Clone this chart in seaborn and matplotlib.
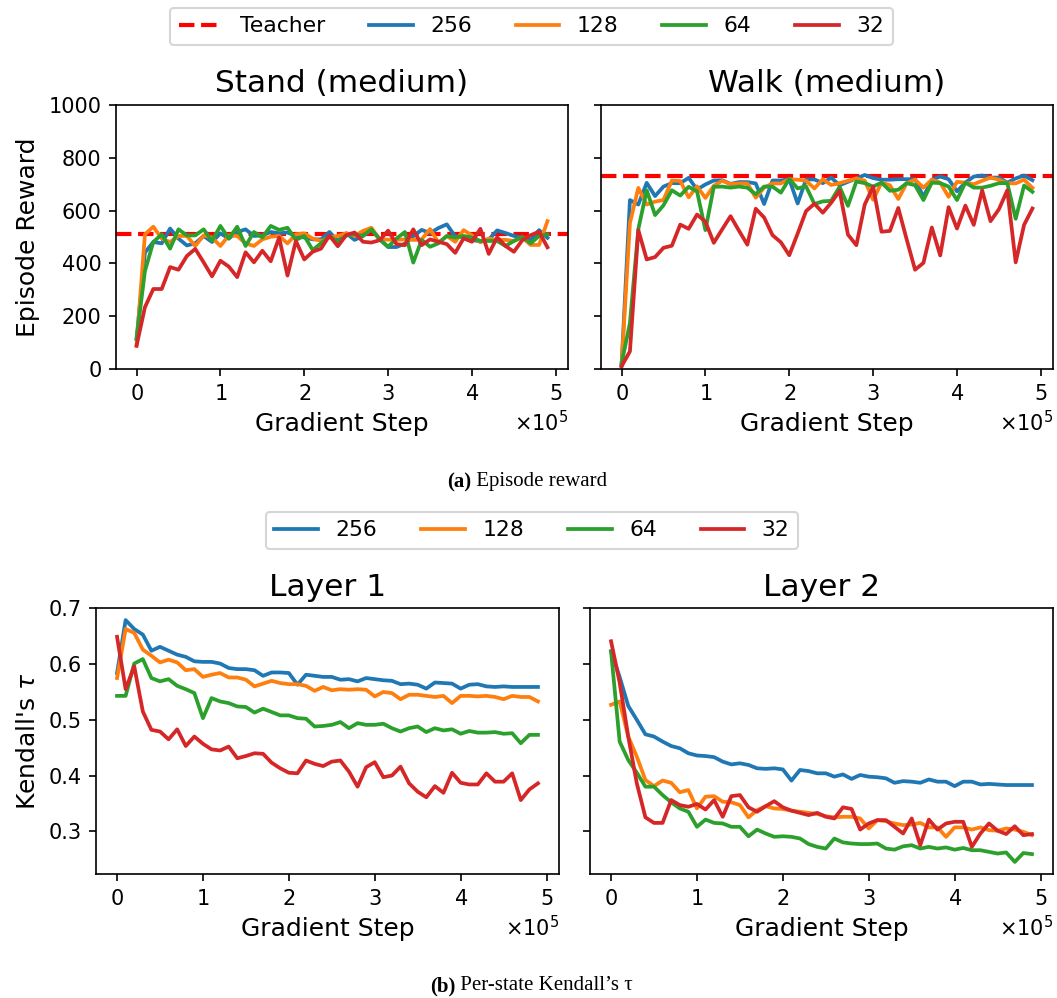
import numpy as np
import pandas as pd
import matplotlib
matplotlib.use("Agg")
import matplotlib.pyplot as plt
import seaborn as sns

# gradient steps (x axis), 50 checkpoints
steps = np.arange(50) * 10000

widths = ["256", "128", "64", "32"]
colors = ["#1f77b4", "#ff7f0e", "#2ca02c", "#d62728"]

# --- Episode reward, Stand (medium) ---
stand_teacher = 513
stand_256 = [114, 441, 481, 476, 532, 494, 468, 476, 504, 481, 514, 494, 519, 529, 504, 506, 519, 514, 517, 504,
             498, 491, 491, 519, 485, 514, 489, 504, 529, 491, 462, 462, 475, 503, 527, 515, 534, 548, 502, 500,
             489, 483, 490, 525, 515, 504, 497, 489, 526, 497]
stand_128 = [89, 510, 539, 494, 481, 504, 504, 466, 506, 498, 466, 506, 504, 476, 466, 491, 501, 504, 476, 510,
             514, 494, 485, 498, 504, 514, 504, 523, 535, 491, 490, 489, 491, 489, 491, 530, 479, 504, 482, 526,
             506, 480, 494, 489, 489, 485, 498, 470, 470, 560]
stand_64 = [114, 371, 481, 510, 456, 529, 506, 506, 529, 485, 542, 494, 539, 466, 519, 498, 542, 527, 535, 489,
            504, 451, 476, 504, 481, 506, 510, 504, 529, 491, 463, 494, 519, 403, 489, 463, 476, 504, 498, 504,
            498, 485, 485, 485, 466, 485, 501, 476, 504, 510]
stand_32 = [88, 234, 303, 303, 386, 376, 428, 455, 404, 351, 410, 388, 348, 442, 404, 448, 408, 498, 354, 485,
            415, 444, 456, 506, 465, 507, 517, 482, 479, 488, 524, 473, 469, 529, 469, 491, 482, 473, 440, 495,
            482, 531, 436, 499, 466, 444, 488, 507, 520, 461]

# --- Episode reward, Walk (medium) ---
walk_teacher = 732
walk_256 = [13, 640, 623, 705, 655, 691, 704, 704, 724, 680, 699, 714, 715, 701, 708, 708, 703, 625, 714, 714,
            719, 627, 718, 718, 704, 725, 696, 709, 722, 735, 723, 717, 717, 719, 719, 719, 652, 717, 729, 719,
            673, 706, 729, 733, 725, 725, 706, 722, 733, 715]
walk_128 = [13, 553, 686, 623, 634, 640, 714, 712, 650, 692, 648, 694, 713, 700, 703, 703, 649, 687, 703, 703,
            719, 717, 713, 684, 719, 697, 704, 713, 722, 713, 641, 706, 696, 644, 704, 717, 687, 717, 706, 652,
            709, 706, 700, 713, 725, 717, 704, 703, 717, 686]
walk_64 = [20, 174, 530, 677, 583, 620, 677, 657, 690, 673, 526, 690, 691, 687, 691, 687, 662, 691, 691, 668,
           720, 684, 692, 625, 635, 637, 690, 618, 710, 704, 691, 706, 675, 679, 704, 696, 640, 706, 704, 691,
           640, 706, 687, 687, 694, 704, 704, 569, 695, 671]
walk_32 = [10, 67, 526, 415, 424, 459, 467, 547, 531, 585, 558, 478, 529, 579, 524, 471, 607, 574, 507, 480,
           431, 513, 598, 626, 592, 630, 675, 509, 469, 623, 691, 520, 523, 610, 491, 376, 402, 536, 430, 613,
           532, 619, 546, 677, 560, 605, 677, 404, 546, 608]

# --- Per-state Kendall's tau, Layer 1 ---
l1_256 = [0.584, 0.679, 0.663, 0.653, 0.624, 0.631, 0.624, 0.617, 0.613, 0.605, 0.604, 0.604, 0.601, 0.593,
          0.591, 0.591, 0.589, 0.579, 0.585, 0.585, 0.584, 0.563, 0.581, 0.579, 0.577, 0.577, 0.572, 0.573,
          0.569, 0.575, 0.573, 0.571, 0.570, 0.564, 0.565, 0.563, 0.556, 0.567, 0.566, 0.565, 0.556, 0.563,
          0.564, 0.560, 0.559, 0.560, 0.559, 0.559, 0.559, 0.559]
l1_128 = [0.575, 0.663, 0.656, 0.626, 0.615, 0.603, 0.608, 0.603, 0.589, 0.591, 0.577, 0.581, 0.584, 0.576,
          0.576, 0.572, 0.560, 0.565, 0.570, 0.566, 0.564, 0.564, 0.561, 0.552, 0.559, 0.553, 0.555, 0.554,
          0.555, 0.554, 0.542, 0.550, 0.548, 0.537, 0.545, 0.545, 0.543, 0.541, 0.543, 0.530, 0.543, 0.543,
          0.542, 0.543, 0.541, 0.537, 0.543, 0.541, 0.541, 0.533]
l1_64 = [0.543, 0.543, 0.601, 0.609, 0.575, 0.569, 0.573, 0.561, 0.555, 0.548, 0.503, 0.539, 0.533, 0.530,
         0.524, 0.523, 0.513, 0.520, 0.514, 0.508, 0.508, 0.503, 0.502, 0.488, 0.489, 0.491, 0.496, 0.485,
         0.494, 0.491, 0.491, 0.493, 0.485, 0.479, 0.485, 0.488, 0.478, 0.485, 0.481, 0.483, 0.475, 0.480,
         0.477, 0.477, 0.478, 0.475, 0.476, 0.458, 0.473, 0.473]
l1_32 = [0.649, 0.555, 0.596, 0.515, 0.482, 0.479, 0.465, 0.483, 0.453, 0.470, 0.457, 0.447, 0.445, 0.452,
         0.431, 0.435, 0.440, 0.439, 0.423, 0.413, 0.405, 0.404, 0.427, 0.421, 0.417, 0.425, 0.427, 0.407,
         0.380, 0.415, 0.424, 0.397, 0.400, 0.416, 0.386, 0.371, 0.361, 0.381, 0.369, 0.405, 0.387, 0.384,
         0.384, 0.404, 0.389, 0.389, 0.404, 0.356, 0.375, 0.386]

# --- Per-state Kendall's tau, Layer 2 ---
l2_256 = [0.623, 0.577, 0.525, 0.500, 0.474, 0.470, 0.461, 0.453, 0.449, 0.440, 0.436, 0.435, 0.433, 0.425,
          0.420, 0.422, 0.419, 0.413, 0.412, 0.413, 0.411, 0.391, 0.410, 0.408, 0.404, 0.404, 0.398, 0.402,
          0.394, 0.401, 0.398, 0.397, 0.395, 0.387, 0.390, 0.389, 0.387, 0.393, 0.389, 0.389, 0.381, 0.389,
          0.389, 0.384, 0.385, 0.384, 0.383, 0.383, 0.383, 0.383]
l2_128 = [0.527, 0.533, 0.470, 0.434, 0.392, 0.381, 0.391, 0.387, 0.370, 0.374, 0.341, 0.362, 0.363, 0.353,
          0.352, 0.347, 0.325, 0.338, 0.345, 0.341, 0.340, 0.337, 0.335, 0.333, 0.331, 0.327, 0.325, 0.326,
          0.326, 0.323, 0.305, 0.320, 0.318, 0.314, 0.311, 0.312, 0.315, 0.307, 0.307, 0.290, 0.307, 0.307,
          0.303, 0.307, 0.302, 0.301, 0.305, 0.303, 0.299, 0.293]
l2_64 = [0.623, 0.461, 0.428, 0.405, 0.380, 0.380, 0.365, 0.352, 0.341, 0.335, 0.308, 0.321, 0.315, 0.314,
         0.308, 0.308, 0.291, 0.303, 0.296, 0.290, 0.291, 0.290, 0.287, 0.277, 0.272, 0.269, 0.287, 0.280,
         0.278, 0.277, 0.277, 0.278, 0.269, 0.267, 0.273, 0.275, 0.269, 0.272, 0.269, 0.271, 0.267, 0.270,
         0.266, 0.266, 0.263, 0.260, 0.262, 0.245, 0.261, 0.259]
l2_32 = [0.641, 0.567, 0.470, 0.386, 0.325, 0.315, 0.315, 0.356, 0.347, 0.344, 0.349, 0.339, 0.356, 0.326,
         0.363, 0.365, 0.343, 0.335, 0.345, 0.354, 0.343, 0.337, 0.333, 0.329, 0.333, 0.326, 0.323, 0.343,
         0.340, 0.303, 0.314, 0.320, 0.320, 0.308, 0.296, 0.323, 0.275, 0.321, 0.303, 0.314, 0.317, 0.317,
         0.272, 0.296, 0.314, 0.301, 0.295, 0.309, 0.293, 0.295]


def to_long(series):
    frames = []
    for w, vals in zip(widths, series):
        frames.append(pd.DataFrame({"step": steps, "value": vals, "width": w}))
    return pd.concat(frames, ignore_index=True)


plt.rcParams.update({
    "font.size": 10,
    "axes.titlesize": 15,
    "axes.labelsize": 12,
    "xtick.labelsize": 10,
    "ytick.labelsize": 10,
    "legend.fontsize": 10.5,
    "lines.linewidth": 1.8,
})

fig = plt.figure(figsize=(1057 / 150, 998 / 150), dpi=150)

W, H = 1057, 998
ax_stand = fig.add_axes([116 / W, 1 - 369 / H, 452 / W, 264 / H])
ax_walk = fig.add_axes([601 / W, 1 - 369 / H, 452 / W, 264 / H], sharey=ax_stand)
ax_l1 = fig.add_axes([96 / W, 1 - 874 / H, 463 / W, 266 / H])
ax_l2 = fig.add_axes([590 / W, 1 - 874 / H, 463 / W, 266 / H], sharey=ax_l1)

panels = [
    (ax_stand, "Stand (medium)", [stand_256, stand_128, stand_64, stand_32], stand_teacher),
    (ax_walk, "Walk (medium)", [walk_256, walk_128, walk_64, walk_32], walk_teacher),
    (ax_l1, "Layer 1", [l1_256, l1_128, l1_64, l1_32], None),
    (ax_l2, "Layer 2", [l2_256, l2_128, l2_64, l2_32], None),
]

for ax, title, series, teacher in panels:
    if teacher is not None:
        ax.axhline(teacher, color="red", ls="--", lw=2, label="Teacher")
    sns.lineplot(data=to_long(series), x="step", y="value", hue="width",
                 hue_order=widths, palette=colors, ax=ax, legend=False)
    ax.set_title(title)
    ax.set_xlabel("Gradient Step")
    ax.set_ylabel("")
    ax.set_xticks([0, 100000, 200000, 300000, 400000, 500000])
    ax.ticklabel_format(axis="x", style="sci", scilimits=(0, 0), useMathText=True)

ax_stand.set_ylim(0, 1000)
ax_stand.set_yticks([0, 200, 400, 600, 800, 1000])
ax_stand.set_ylabel("Episode Reward")
ax_l1.set_ylabel("Kendall's $\\tau$")
ax_l1.set_yticks([0.3, 0.4, 0.5, 0.6, 0.7])
plt.setp(ax_walk.get_yticklabels(), visible=False)
plt.setp(ax_l2.get_yticklabels(), visible=False)

# legends
h_top = ax_stand.get_lines()
fig.legend(h_top, ["Teacher"] + widths, loc="center", ncol=5,
           bbox_to_anchor=(531.5 / W, 1 - 26.5 / H))
h_bot = ax_l1.get_lines()
fig.legend(h_bot, widths, loc="center", ncol=4,
           bbox_to_anchor=(532 / W, 1 - 530.5 / H))

# sub-captions: bold tag followed by plain text
for x0, y0, tag, rest in [(447, 482, "(a)", " Episode reward"),
                          (430, 986, "(b)", " Per-state Kendall\u2019s \u03c4")]:
    t = fig.text(x0 / W, 1 - y0 / H, tag, fontweight="bold", family="Liberation Serif",
                 fontsize=10, ha="left", va="center")
    plt.annotate(rest, xy=(1, 0.5), xycoords=t, va="center", ha="left",
                 family="Liberation Serif", fontsize=10)

fig.savefig("out.png", dpi=150)
